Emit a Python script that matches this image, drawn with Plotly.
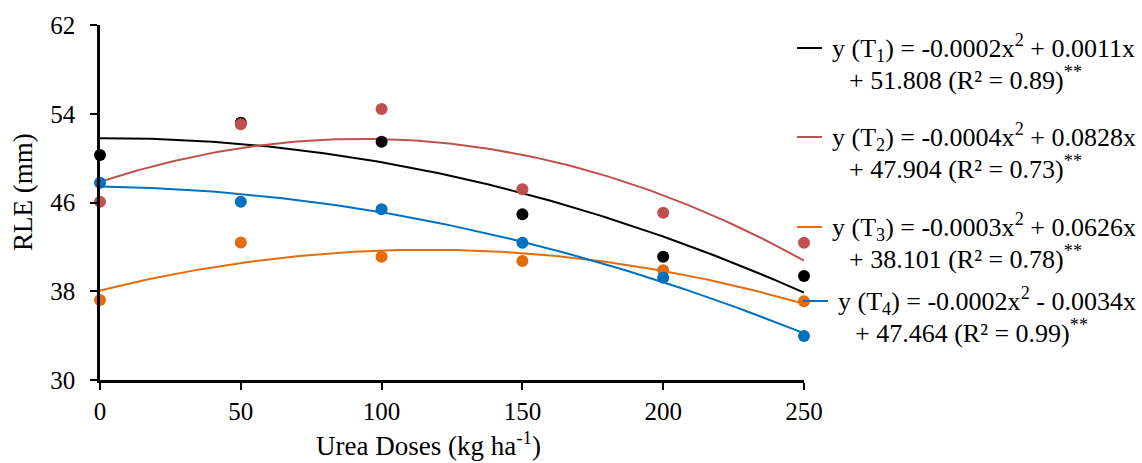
import numpy as np
import plotly.graph_objects as go

doses = [0, 50, 100, 150, 200, 250]
t1 = [50.28, 53.2, 51.48, 44.93, 41.1, 39.37]
t2 = [46.07, 53.05, 54.43, 47.2, 45.08, 42.37]
t3 = [37.2, 42.4, 41.1, 40.72, 39.9, 37.1]
t4 = [47.78, 46.07, 45.4, 42.37, 39.22, 33.96]

line1 = [
    "y (T<sub>1</sub>) = -0.0002x<sup>2</sup> + 0.0011x",
    "y (T<sub>2</sub>) = -0.0004x<sup>2</sup> + 0.0828x",
    "y (T<sub>3</sub>) = -0.0003x<sup>2</sup> + 0.0626x",
    "y (T<sub>4</sub>) = -0.0002x<sup>2</sup> - 0.0034x",
]
line2 = [
    "+ 51.808 (R² = 0.89)<sup>**</sup>",
    "+ 47.904 (R² = 0.73)<sup>**</sup>",
    "+ 38.101 (R² = 0.78)<sup>**</sup>",
    "+ 47.464 (R² = 0.99)<sup>**</sup>",
]
x_title = "Urea Doses (kg ha<sup>-1</sup>)"
y_title = "RLE (mm)"
colors = ["#000000", "#C0504D", "#E46C0A", "#0070C0"]
series = [t1, t2, t3, t4]

# legend layout (pixels)
leg_y = [48, 137, 227, 301]
leg_x = [797, 797, 797, 803]

FONT = "Liberation Serif, Times New Roman, Tinos, Noto Serif, DejaVu Serif, serif"
L, T, PW, PH = 100, 25, 704, 355


def px(x):
    return (x - L) / PW


def py(y):
    return (T + PH - y) / PH


fig = go.Figure()
xs = np.linspace(0, 250, 126)
for i, (ys, c) in enumerate(zip(series, colors)):
    coef = np.polyfit(doses, ys, 2)
    fig.add_trace(go.Scatter(x=xs, y=np.polyval(coef, xs), mode="lines",
                             line=dict(color=c, width=2), showlegend=False,
                             hoverinfo="skip"))
for i, (ys, c) in enumerate(zip(series, colors)):
    fig.add_trace(go.Scatter(x=doses, y=ys, mode="markers",
                             marker=dict(color=c, size=12), cliponaxis=False,
                             showlegend=False))

for i in range(4):
    x0 = leg_x[i]
    fig.add_shape(type="line", xref="paper", yref="paper",
                  x0=px(x0), x1=px(x0 + 25), y0=py(leg_y[i]), y1=py(leg_y[i]),
                  line=dict(color=colors[i], width=2))
    fig.add_annotation(xref="paper", yref="paper", x=px(x0 + 33), y=py(leg_y[i]),
                       xanchor="left", yanchor="middle", showarrow=False,
                       text=line1[i], font=dict(family=FONT, size=26, color="black"))
    fig.add_annotation(xref="paper", yref="paper", x=px(x0 + 50), y=py(leg_y[i] + 30),
                       xanchor="left", yanchor="middle", showarrow=False,
                       text=line2[i], font=dict(family=FONT, size=26, color="black"))

# axis titles
fig.add_annotation(xref="paper", yref="paper", x=px(428), y=py(444),
                   xanchor="center", yanchor="middle", showarrow=False,
                   text=x_title, font=dict(family=FONT, size=27, color="black"))
fig.add_annotation(xref="paper", yref="paper", x=px(23), y=py(192),
                   xanchor="center", yanchor="middle", showarrow=False,
                   textangle=-90,
                   text=y_title, font=dict(family=FONT, size=27, color="black"))

fig.update_layout(
    width=1142, height=463,
    margin=dict(l=L, r=1142 - L - PW, t=T, b=463 - T - PH),
    paper_bgcolor="white", plot_bgcolor="white",
    font=dict(family=FONT, size=26, color="black"),
    showlegend=False,
    xaxis=dict(range=[0, 250], tickvals=doses, showgrid=False, zeroline=False,
               showline=True, linecolor="black", linewidth=2.5, automargin=False,
               ticks="outside", ticklen=7, tickwidth=1.5, tickcolor="black",
               tickfont=dict(family=FONT, size=25)),
    yaxis=dict(range=[30, 62], tickvals=[30, 38, 46, 54, 62], showgrid=False,
               zeroline=False, showline=True, linecolor="black", linewidth=2.5,
               automargin=False,
               ticks="outside", ticklen=7, tickwidth=1.5, tickcolor="black",
               tickfont=dict(family=FONT, size=25), ticklabelstandoff=10),
)

fig.write_html("out.html")
